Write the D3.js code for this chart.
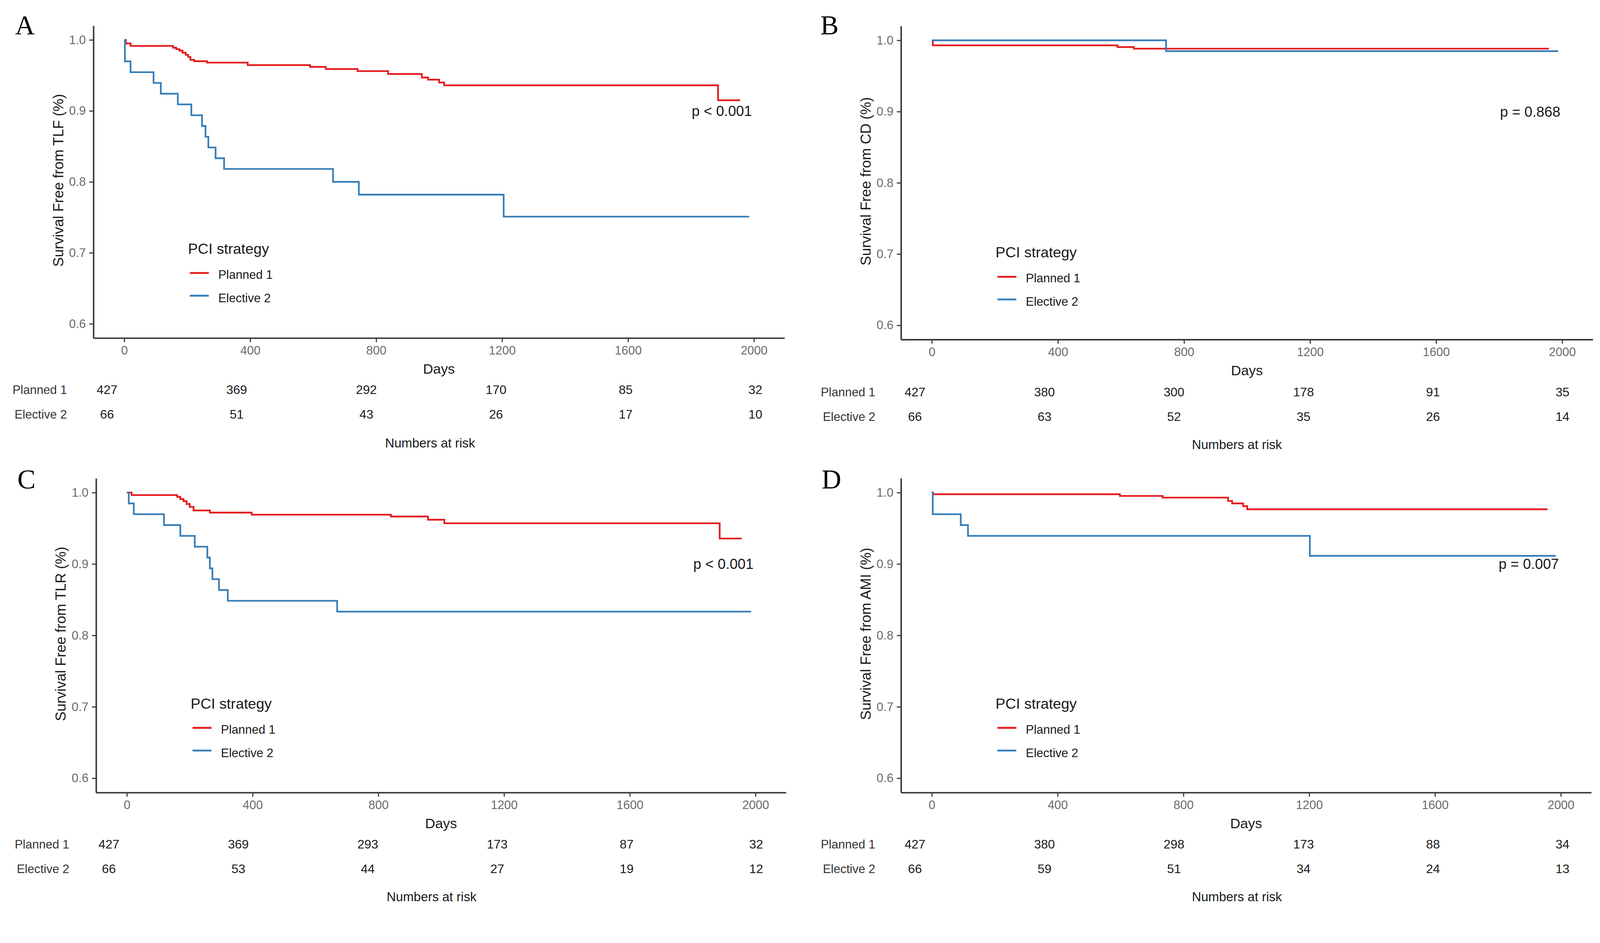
<!DOCTYPE html>
<html>
<head>
<meta charset="utf-8">
<script src="https://cdn.jsdelivr.net/npm/d3@7"></script>
<style>
  html, body { margin: 0; padding: 0; background: #fff; overflow: hidden; }
  svg { display: block; width: 100vw; height: 100vh; }
  text { font-family: "Liberation Sans", Arial, sans-serif; }
</style>
</head>
<body>
<div id="chart"></div>
<script>
//-------------------------- data --------------------------
var panelNames = ["A", "B", "C", "D"];
var yTitles = ["Survival Free from TLF (%)", "Survival Free from CD (%)",
               "Survival Free from TLR (%)", "Survival Free from AMI (%)"];
var pLabels = ["p < 0.001", "p = 0.868", "p < 0.001", "p = 0.007"];
var groupNames = ["Planned 1", "Elective 2"];
var xTicks = [0, 400, 800, 1200, 1600, 2000];
var yTicks = [0.6, 0.7, 0.8, 0.9, 1.0];
var riskDays = [0, 400, 800, 1200, 1600, 2000];

// [day, survival]
var plannedA = [[0, 1], [5, 0.995], [20, 0.9915], [155, 0.989], [165, 0.987], [175, 0.985],
    [185, 0.982], [195, 0.979], [203, 0.976], [210, 0.972], [222, 0.970], [263, 0.968],
    [392, 0.9645], [590, 0.962], [640, 0.959], [741, 0.956], [838, 0.952], [945, 0.947],
    [965, 0.944], [1000, 0.940], [1016, 0.936], [1886, 0.915], [1956, 0.915]];
var electiveA = [[0, 1], [2, 0.9697], [20, 0.9545], [93, 0.9394], [116, 0.9242], [170, 0.9091],
    [213, 0.8939], [247, 0.8788], [258, 0.8636], [267, 0.8485], [290, 0.8333], [317, 0.8182],
    [663, 0.800], [745, 0.782], [1205, 0.751], [1985, 0.751]];
var plannedB = [[0, 1], [3, 0.993], [589, 0.9906], [641, 0.9883], [1958, 0.9883]];
var electiveB = [[0, 1], [743, 0.9848], [1987, 0.9848]];
var plannedC = [[0, 1], [15, 0.9965], [160, 0.994], [170, 0.991], [180, 0.988], [190, 0.984],
    [200, 0.980], [212, 0.975], [264, 0.972], [397, 0.969], [840, 0.9665], [958, 0.962],
    [1010, 0.957], [1886, 0.9357], [1956, 0.9357]];
var electiveC = [[0, 1], [6, 0.9848], [22, 0.9697], [118, 0.9545], [170, 0.9394], [216, 0.9242],
    [256, 0.9091], [264, 0.8939], [272, 0.8788], [293, 0.8636], [321, 0.8485], [669, 0.8333],
    [1986, 0.8333]];
var plannedD = [[0, 1], [4, 0.9977], [598, 0.9953], [734, 0.993], [942, 0.9883], [955, 0.9848],
    [990, 0.981], [1003, 0.9766], [1958, 0.9766]];
var electiveD = [[0, 1], [3, 0.9697], [92, 0.9545], [115, 0.9394], [1202, 0.9114], [1984, 0.9114]];

var riskPlannedA = [427, 369, 292, 170, 85, 32];
var riskElectiveA = [66, 51, 43, 26, 17, 10];
var riskPlannedB = [427, 380, 300, 178, 91, 35];
var riskElectiveB = [66, 63, 52, 35, 26, 14];
var riskPlannedC = [427, 369, 293, 173, 87, 32];
var riskElectiveC = [66, 53, 44, 27, 19, 12];
var riskPlannedD = [427, 380, 298, 173, 88, 34];
var riskElectiveD = [66, 59, 51, 34, 24, 13];

var curves = [[plannedA, electiveA], [plannedB, electiveB], [plannedC, electiveC], [plannedD, electiveD]];
var risks = [[riskPlannedA, riskElectiveA], [riskPlannedB, riskElectiveB],
             [riskPlannedC, riskElectiveC], [riskPlannedD, riskElectiveD]];

//-------------------------- layout --------------------------
var W = 4230, H = 2415;
var colors = ["#e41a1c", "#377eb8"];
var layout = [
    { ax: 247, top: 68, bottom: 894, right: 2074, letter: [40, 91], legendY: 603,
      risk: [283, 1997], rowY: [1042, 1107], labelX: 177, natY: 1183, natX: 1137 },
    { ax: 2382, top: 69, bottom: 898, right: 4211, letter: [2169, 91], legendY: 612,
      risk: [2419, 4131], rowY: [1048, 1113], labelX: 2314, natY: 1188, natX: 3270 },
    { ax: 254, top: 1265, bottom: 2096, right: 2078, letter: [46, 1292], legendY: 609,
      risk: [288, 1999], rowY: [2244, 2309], labelX: 183, natY: 2384, natX: 1141 },
    { ax: 2382, top: 1265, bottom: 2096, right: 4207, letter: [2172, 1292], legendY: 609,
      risk: [2419, 4131], rowY: [2244, 2309], labelX: 2314, natY: 2384, natX: 3270 }
];

var svg = d3.select("#chart").append("svg")
    .attr("viewBox", "0 0 " + W + " " + H)
    .attr("preserveAspectRatio", "xMinYMin meet");
svg.append("rect").attr("width", W).attr("height", H).attr("fill", "#fff");

panelNames.forEach(function (name, i) {
    var L = layout[i];
    var g = svg.append("g");

    var x = d3.scaleLinear().domain([-98, 2097]).range([L.ax, L.right]);
    var y = d3.scaleLinear().domain([0.58, 1.02]).range([L.bottom, L.top]);

    // 坐标轴
    var xAxis = d3.axisBottom(x).tickValues(xTicks).tickSize(11).tickSizeOuter(0).tickPadding(10)
        .tickFormat(d3.format("d"));
    var yAxis = d3.axisLeft(y).tickValues(yTicks).tickSize(11).tickSizeOuter(0).tickPadding(9)
        .tickFormat(d3.format(".1f"));

    var gx = g.append("g").attr("transform", "translate(0," + L.bottom + ")").call(xAxis);
    var gy = g.append("g").attr("transform", "translate(" + L.ax + ",0)").call(yAxis);
    [gx, gy].forEach(function (a) {
        a.select(".domain").attr("stroke", "#3a3a3a").attr("stroke-width", 4);
        a.selectAll(".tick line").attr("stroke", "#3a3a3a").attr("stroke-width", 3);
        a.selectAll(".tick text").attr("fill", "#6b6b6b").style("font-size", "32px")
            .style("font-family", "'Liberation Sans', Arial, sans-serif");
    });

    // 曲线
    var line = d3.line()
        .x(function (d) { return x(d[0]); })
        .y(function (d) { return y(d[1]); })
        .curve(d3.curveStepAfter);
    curves[i].forEach(function (c, k) {
        g.append("path").datum(c)
            .attr("d", line)
            .attr("fill", "none")
            .attr("stroke", colors[k])
            .attr("stroke-width", 4.5);
    });

    // titles
    g.append("text")
        .attr("x", (L.ax + L.right) / 2).attr("y", L.bottom + 94)
        .attr("text-anchor", "middle").attr("fill", "#1a1a1a")
        .style("font-size", "37px").text("Days");
    g.append("text")
        .attr("transform", "translate(" + (L.ax - 80) + "," + ((L.top + L.bottom) / 2 - 4) + ") rotate(-90)")
        .attr("text-anchor", "middle").attr("fill", "#1a1a1a")
        .style("font-size", "38px").text(yTitles[i]);

    g.append("text")
        .attr("x", L.letter[0]).attr("y", L.letter[1])
        .style("font-family", "'Liberation Serif', 'Times New Roman', serif")
        .style("font-size", "72px").attr("fill", "#000")
        .text(name);

    // p value
    g.append("text")
        .attr("x", x(1994)).attr("y", y(0.893))
        .attr("text-anchor", "end").attr("fill", "#1a1a1a")
        .style("font-size", "38px").text(pLabels[i]);

    // legend
    var ly = L.top + L.legendY;
    g.append("text").attr("x", L.ax + 250).attr("y", ly)
        .attr("fill", "#1a1a1a").style("font-size", "39px").text("PCI strategy");
    groupNames.forEach(function (gn, k) {
        var ky = ly + (k === 0 ? 51 : 111);
        var ty = ly + (k === 0 ? 66 : 128);
        g.append("line")
            .attr("x1", L.ax + 255).attr("x2", L.ax + 305)
            .attr("y1", ky).attr("y2", ky)
            .attr("stroke", colors[k]).attr("stroke-width", 5);
        g.append("text").attr("x", L.ax + 330).attr("y", ty)
            .attr("fill", "#1a1a1a").style("font-size", "32px").text(gn);
    });

    // numbers at risk
    var rx = d3.scaleLinear().domain([0, 2000]).range(L.risk);
    risks[i].forEach(function (row, k) {
        g.append("text").attr("x", L.labelX).attr("y", L.rowY[k])
            .attr("text-anchor", "end").attr("fill", "#333")
            .style("font-size", "32px").text(groupNames[k]);
        g.selectAll(null).data(row).join("text")
            .attr("x", function (d, j) { return rx(riskDays[j]); })
            .attr("y", L.rowY[k])
            .attr("text-anchor", "middle").attr("fill", "#1a1a1a")
            .style("font-size", "33px")
            .text(function (d) { return d; });
    });
    g.append("text").attr("x", L.natX).attr("y", L.natY)
        .attr("text-anchor", "middle").attr("fill", "#1a1a1a")
        .style("font-size", "34px").text("Numbers at risk");
});
</script>
</body>
</html>
